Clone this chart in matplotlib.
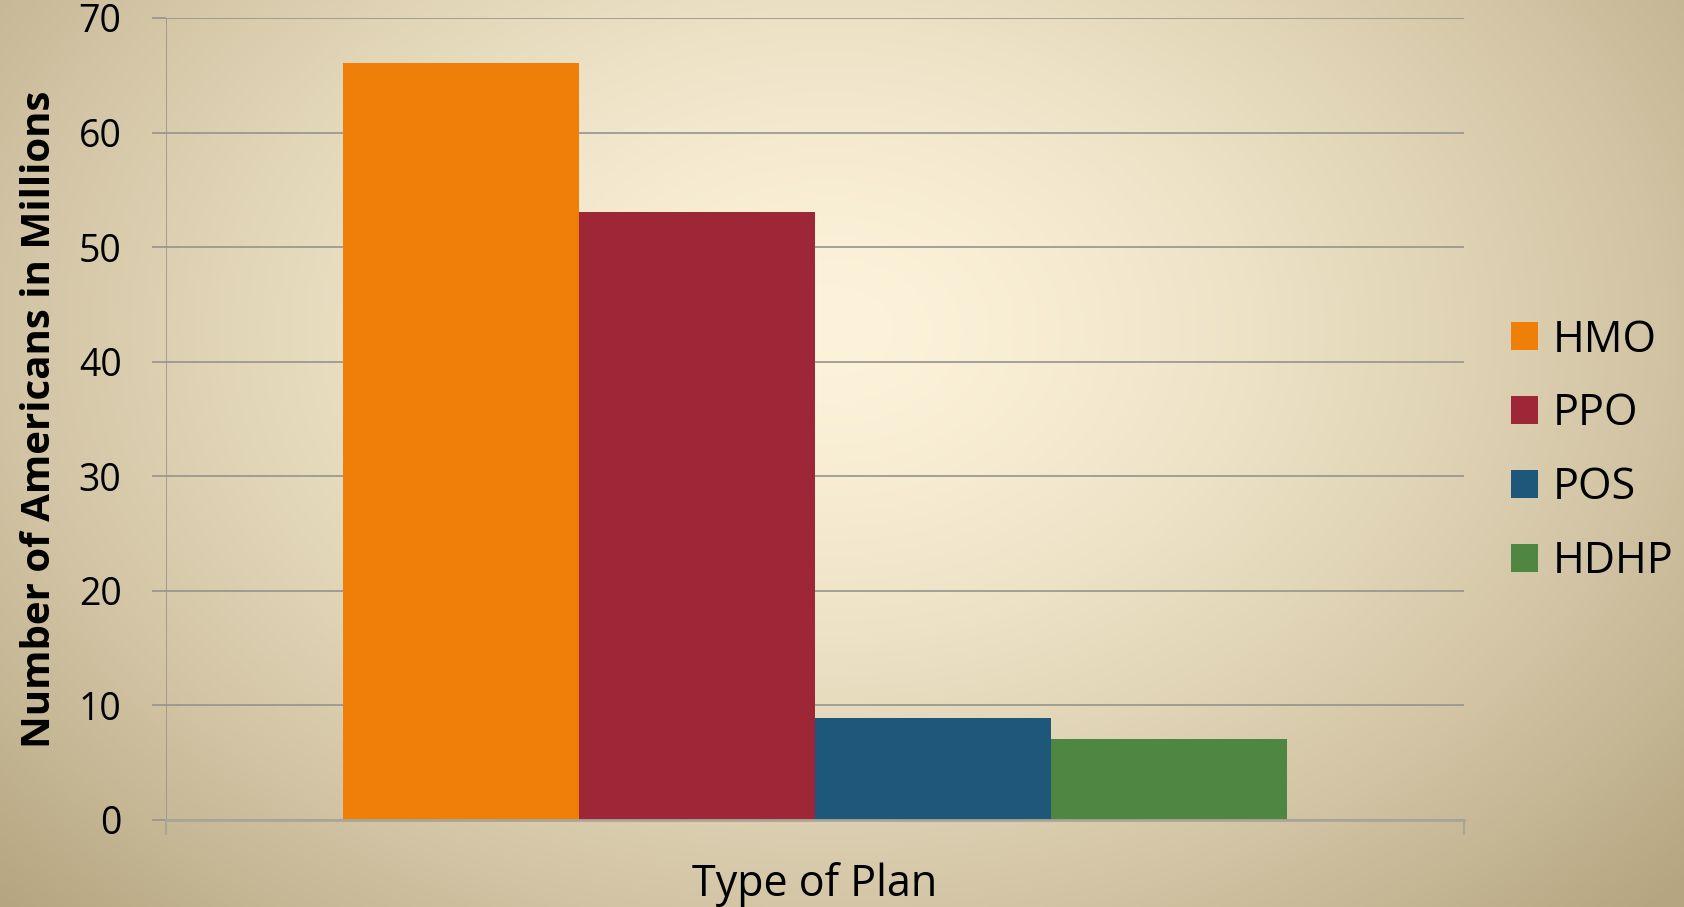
import numpy as np
import matplotlib
matplotlib.use("Agg")
import matplotlib.pyplot as plt

plt.rcParams['font.family'] = ['Open Sans', 'DejaVu Sans']

# data
plans = ["HMO", "PPO", "POS", "HDHP"]
members = [66.1, 53.1, 8.9, 7.1]   # millions
colors = ["#F07F0A", "#9E2737", "#1D587B", "#4E8642"]
yticks = [0, 10, 20, 30, 40, 50, 60, 70]

W, H = 1684, 907
fig = plt.figure(figsize=(W / 100, H / 100), dpi=100)

# radial beige background
bg = fig.add_axes([0, 0, 1, 1], zorder=-10)
yy, xx = np.mgrid[0:H, 0:W]
r = np.sqrt(((xx - 830) / 1000.0) ** 2 + ((yy - 330) / 720.0) ** 2)
t = np.clip(r / 1.15, 0, 1) ** 1.5
c0 = np.array([253, 243, 218]) / 255.0
c1 = np.array([181, 165, 128]) / 255.0
img = c0[None, None, :] * (1 - t[..., None]) + c1[None, None, :] * t[..., None]
bg.imshow(img, aspect='auto', extent=[0, 1, 0, 1])
bg.axis('off')

ax = fig.add_axes([166 / W, 1 - 820 / H, (1464 - 166) / W, (820 - 18) / H])
ax.set_facecolor('none')

w = 0.1817
offs = (np.arange(len(plans)) - (len(plans) - 1) / 2) * w
for i, (name, v) in enumerate(zip(plans, members)):
    ax.bar(offs[i], v, width=w, color=colors[i], label=name, zorder=3)

ax.set_xlim(-0.5, 0.5)
ax.set_ylim(0, 70)
ax.set_yticks(yticks)
ax.set_xticks([-0.5, 0.5])
ax.set_xticklabels([])
ax.grid(axis='y', color='#95938C', linewidth=1.2, zorder=0)
for s in ['top', 'right', 'left']:
    ax.spines[s].set_visible(False)
ax.spines['bottom'].set_color('#A9A597')
ax.spines['bottom'].set_linewidth(2)
ax.spines['bottom'].set_zorder(4)
ax.axvline(-0.5, color='#95938C', linewidth=1.2, zorder=1)
ax.tick_params(axis='y', length=10, width=1.2, color='#95938C', pad=22, labelsize=27)
ax.tick_params(axis='x', length=11, width=1.5, color='#A9A597')

ax.set_ylabel("Number of Americans in Millions", fontsize=29, fontweight='bold', labelpad=14)
ax.set_xlabel("Type of Plan", fontsize=31, labelpad=16)

fig.legend(loc='center left', bbox_to_anchor=(1511 / W, 1 - 451 / H), frameon=False,
           fontsize=31, handlelength=0.62, handleheight=0.62, handletextpad=0.35,
           labelspacing=0.68, borderpad=0, borderaxespad=0)

fig.savefig("out.png", dpi=100)
